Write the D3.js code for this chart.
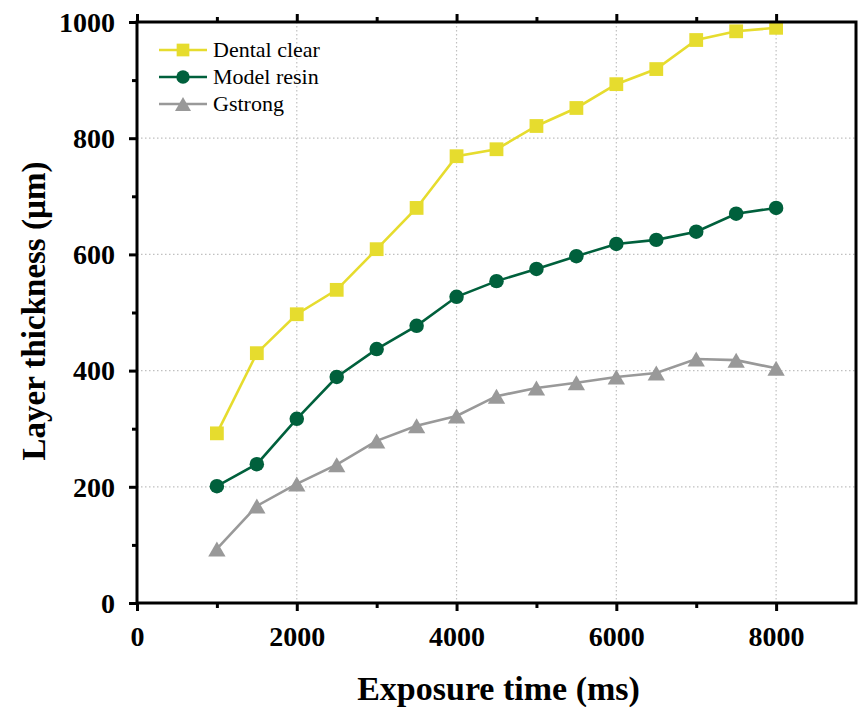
<!DOCTYPE html>
<html>
<head>
<meta charset="utf-8">
<script src="https://cdn.jsdelivr.net/npm/d3@7/dist/d3.min.js"></script>
<style>
  html, body { margin: 0; padding: 0; background: #fff; }
  svg { display: block; }
</style>
</head>
<body>
<svg id="chart" width="858" height="707"></svg>
<script>
// Exposure times (ms)
const exposure = [1000, 1500, 2000, 2500, 3000, 3500, 4000, 4500, 5000, 5500, 6000, 6500, 7000, 7500, 8000];
// Layer thickness (µm) per resin
const dentalClear = [292, 430, 497, 539, 609, 680, 769, 781, 821, 852, 893, 919, 969, 984, 990];
const modelResin  = [201, 239, 317, 389, 437, 477, 527, 554, 575, 597, 618, 625, 639, 670, 680];
const gstrong     = [93, 167, 205, 238, 279, 305, 322, 356, 370, 379, 389, 396, 420, 418, 404];

const seriesNames = ["Dental clear", "Model resin", "Gstrong"];
const xTicks = [0, 2000, 4000, 6000, 8000];
const xMinorTicks = [1000, 3000, 5000, 7000];
const yTicks = [0, 200, 400, 600, 800, 1000];
const yMinorTicks = [100, 300, 500, 700, 900];

const series = [
  { name: seriesNames[0], values: dentalClear, color: "#e6dc2e", symbol: d3.symbolSquare, size: 190 },
  { name: seriesNames[1], values: modelResin,  color: "#00603c", symbol: d3.symbolCircle, size: 165 },
  { name: seriesNames[2], values: gstrong,     color: "#999999", symbol: d3.symbolTriangle, size: 130 }
];

// Triangles are centred on their bounding box rather than their centroid
function symbolOffset(s) {
  if (s.symbol !== d3.symbolTriangle) return 0;
  return Math.sqrt(s.size / (3 * Math.sqrt(3))) / 2;
}

const svg = d3.select("#chart");
const plotL = 137, plotR = 856, plotT = 22, plotB = 603;

const x = d3.scaleLinear().domain([0, 9000]).range([plotL, plotR]);
const y = d3.scaleLinear().domain([0, 1000]).range([plotB, plotT]);

const font = "'Liberation Serif', 'Times New Roman', serif";

// Dotted grid at major ticks
const grid = svg.append("g");
grid.selectAll("line.gx").data(xTicks.filter(t => t > 0)).enter().append("line")
  .attr("x1", d => x(d)).attr("x2", d => x(d)).attr("y1", plotT).attr("y2", plotB)
  .attr("stroke", "#c0c0c0").attr("stroke-width", 1.2).attr("stroke-dasharray", "1.5,2.5");
grid.selectAll("line.gy").data(yTicks.filter(t => t > 0 && t < 1000)).enter().append("line")
  .attr("x1", plotL).attr("x2", plotR).attr("y1", d => y(d)).attr("y2", d => y(d))
  .attr("stroke", "#c0c0c0").attr("stroke-width", 1.2).attr("stroke-dasharray", "1.5,2.5");

// Series lines and markers
const line = d3.line().x((d, i) => x(exposure[i])).y(d => y(d));
series.forEach(s => {
  const off = symbolOffset(s);
  svg.append("path").datum(s.values).attr("d", line)
    .attr("fill", "none").attr("stroke", s.color).attr("stroke-width", 2.6);
  svg.append("g").selectAll("path").data(s.values).enter().append("path")
    .attr("d", d3.symbol().type(s.symbol).size(s.size))
    .attr("transform", (d, i) => `translate(${x(exposure[i])},${y(d) + off})`)
    .attr("fill", s.color);
});

// Axes
const axStroke = 3;
const gB = svg.append("g").attr("transform", `translate(0,${plotB})`)
  .call(d3.axisBottom(x).tickValues(xTicks).tickSize(8).tickFormat(d3.format("d")));
const gBm = svg.append("g").attr("transform", `translate(0,${plotB})`)
  .call(d3.axisBottom(x).tickValues(xMinorTicks).tickSize(5).tickFormat(""));
const gT = svg.append("g").attr("transform", `translate(0,${plotT})`)
  .call(d3.axisTop(x).tickValues(xTicks).tickSize(8).tickFormat(""));
const gTm = svg.append("g").attr("transform", `translate(0,${plotT})`)
  .call(d3.axisTop(x).tickValues(xMinorTicks).tickSize(5).tickFormat(""));
const gL = svg.append("g").attr("transform", `translate(${plotL},0)`)
  .call(d3.axisLeft(y).tickValues(yTicks).tickSize(8).tickFormat(d3.format("d")));
const gLm = svg.append("g").attr("transform", `translate(${plotL},0)`)
  .call(d3.axisLeft(y).tickValues(yMinorTicks).tickSize(5).tickFormat(""));

[gB, gBm, gT, gTm, gL, gLm].forEach(g => {
  g.select(".domain").remove();
  g.selectAll(".tick line").attr("stroke", "#000").attr("stroke-width", axStroke);
});
// Frame
svg.append("rect").attr("x", plotL).attr("y", plotT).attr("width", plotR - plotL).attr("height", plotB - plotT)
  .attr("fill", "none").attr("stroke", "#000").attr("stroke-width", axStroke);

gB.selectAll(".tick text").attr("font-family", font).attr("font-weight", "bold")
  .attr("font-size", 28).attr("fill", "#000").attr("dy", null).attr("y", 43);
gL.selectAll(".tick text").attr("font-family", font).attr("font-weight", "bold")
  .attr("font-size", 28).attr("fill", "#000").attr("x", -22).attr("dy", "0.33em");

// Axis titles
svg.append("text").attr("x", x(4500) + 2).attr("y", 700).attr("text-anchor", "middle")
  .attr("font-family", font).attr("font-weight", "bold").attr("font-size", 34)
  .text("Exposure time (ms)");
svg.append("text").attr("transform", `translate(45,${311}) rotate(-90)`)
  .attr("text-anchor", "middle").attr("font-family", font).attr("font-weight", "bold").attr("font-size", 33)
  .text("Layer thickness (µm)");

// Legend
const legend = svg.append("g");
series.forEach((s, i) => {
  const ly = 50 + i * 27;
  const off = symbolOffset(s) * 0.92;
  legend.append("line").attr("x1", 159).attr("x2", 207).attr("y1", ly).attr("y2", ly)
    .attr("stroke", s.color).attr("stroke-width", 2.6);
  legend.append("path").attr("d", d3.symbol().type(s.symbol).size(s.size * 0.85))
    .attr("transform", `translate(183,${ly + off})`).attr("fill", s.color);
  legend.append("text").attr("x", 213).attr("y", ly).attr("dy", "0.33em")
    .attr("font-family", font).attr("font-size", 22).attr("fill", "#000").text(s.name);
});
</script>
</body>
</html>
